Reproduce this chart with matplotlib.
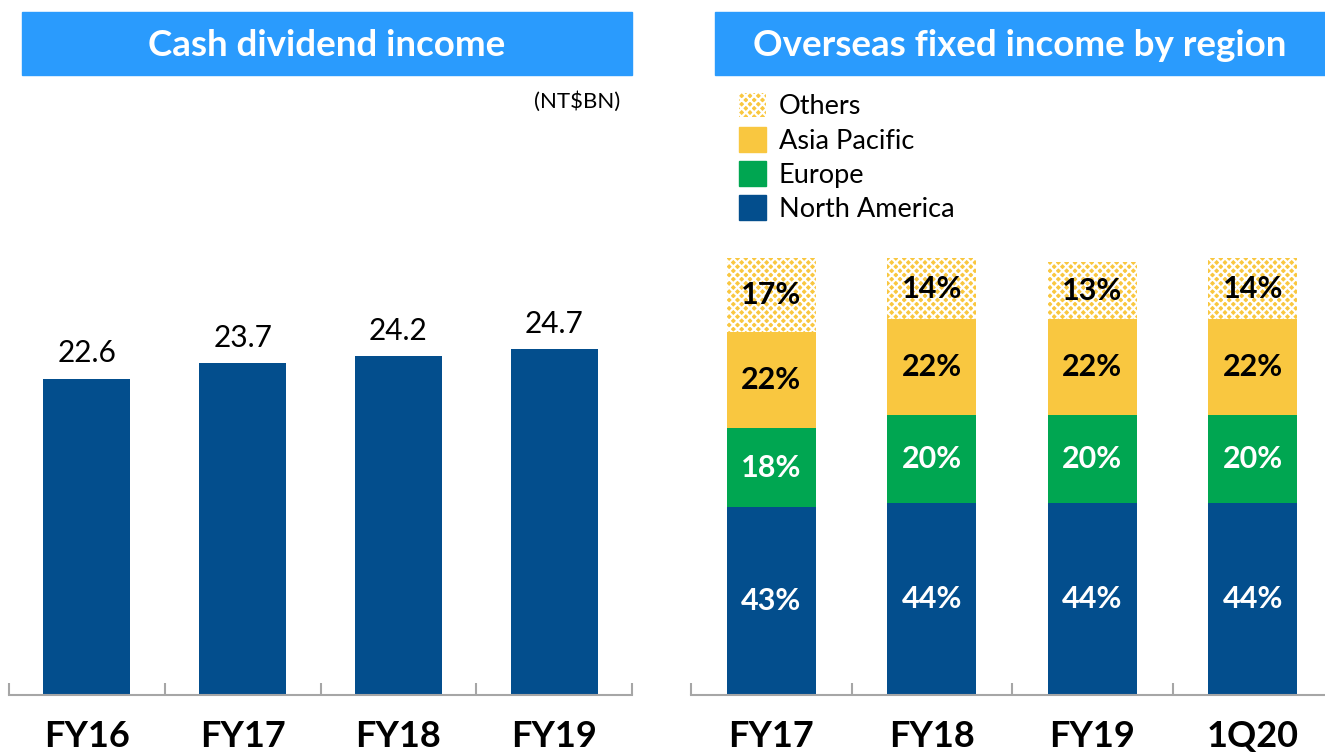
import matplotlib.pyplot as plt
from matplotlib.patches import Rectangle, Patch

plt.rcParams['font.family'] = ['Lato', 'DejaVu Sans']
plt.rcParams['hatch.linewidth'] = 1.6

# Cash dividend income (NT$BN)
div_years = ['FY16', 'FY17', 'FY18', 'FY19']
div_values = [22.6, 23.7, 24.2, 24.7]

# Overseas fixed income split by region (%)
fi_periods = ['FY17', 'FY18', 'FY19', '1Q20']
north_america = [43, 44, 44, 44]
europe = [18, 20, 20, 20]
asia_pacific = [22, 22, 22, 22]
others = [17, 14, 13, 14]

BLUE = '#034E8D'
GREEN = '#00A651'
YELLOW = '#F9C740'
HEADER = '#2A9BFD'
W, H = 1325, 754

fig = plt.figure(figsize=(W / 100, H / 100), dpi=100)


def px_axes(x0, x1, ybot, ytop):
    return fig.add_axes([x0 / W, 1 - ybot / H, (x1 - x0) / W, (ybot - ytop) / H])


def header(x0, x1, text):
    fig.patches.append(Rectangle((x0 / W, 1 - 75 / H), (x1 - x0) / W, 63 / H,
                                 transform=fig.transFigure, color=HEADER, zorder=0))
    fig.text((x0 + x1) / 2 / W, 1 - 45 / H, text, ha='center', va='center',
             color='white', fontsize=26.5, fontweight='bold')


def style_axis(ax, labels):
    n = len(labels)
    for side in ['left', 'right', 'top']:
        ax.spines[side].set_visible(False)
    ax.spines['bottom'].set_color('#A6A6A6')
    ax.spines['bottom'].set_linewidth(1.5)
    ax.set_yticks([])
    ax.set_xlim(-0.5, n - 0.5)
    ax.set_xticks(range(n))
    ax.set_xticklabels(labels, fontweight='bold')
    ax.tick_params(axis='x', which='major', length=0, pad=18, labelsize=26)
    ax.set_xticks([i - 0.5 for i in range(n + 1)], minor=True)
    ax.tick_params(axis='x', which='minor', direction='in', length=9,
                   width=1.5, color='#A6A6A6')


# Left panel: cash dividend income
header(22, 632, 'Cash dividend income')
ax1 = px_axes(9, 632, 695, 275)
ax1.set_ylim(0, 30)
bars = ax1.bar(range(len(div_years)), div_values, width=0.56, color=BLUE)
for b, v in zip(bars, div_values):
    ax1.annotate(f'{v:.1f}', (b.get_x() + b.get_width() / 2, v),
                 xytext=(0, 8), textcoords='offset points',
                 ha='center', va='bottom', fontsize=21.5)
style_axis(ax1, div_years)
fig.text(620 / W, 1 - 102 / H, '(NT$BN)', ha='right', va='center', fontsize=16)

# Right panel: overseas fixed income by region
header(715, 1325, 'Overseas fixed income by region')
ax2 = px_axes(691, 1333, 695, 258)
ax2.set_ylim(0, 100)
x = range(len(fi_periods))
segments = [
    (north_america, dict(color=BLUE), 'white'),
    (europe, dict(color=GREEN), 'white'),
    (asia_pacific, dict(color=YELLOW), 'black'),
    (others, dict(facecolor=YELLOW, edgecolor='white', hatch='xxxx', linewidth=0), 'black'),
]
bottom = [0] * len(fi_periods)
for vals, kw, tcolor in segments:
    ax2.bar(x, vals, bottom=bottom, width=0.555, **kw)
    for i, v in enumerate(vals):
        ax2.text(i, bottom[i] + v / 2, f'{v}%', ha='center', va='center',
                 fontsize=22, fontweight='bold', color=tcolor)
    bottom = [b + v for b, v in zip(bottom, vals)]
style_axis(ax2, fi_periods)

handles = [
    Patch(facecolor=YELLOW, edgecolor='white', hatch='xxxx', linewidth=0, label='Others'),
    Patch(color=YELLOW, label='Asia Pacific'),
    Patch(color=GREEN, label='Europe'),
    Patch(color=BLUE, label='North America'),
]
fig.legend(handles=handles, loc='upper left', bbox_to_anchor=(728 / W, 1 - 82 / H),
           frameon=False, fontsize=19.5, handlelength=1.02, handleheight=1.02,
           labelspacing=0.28, handletextpad=0.45, borderaxespad=0)

fig.savefig('out.png', dpi=100)
